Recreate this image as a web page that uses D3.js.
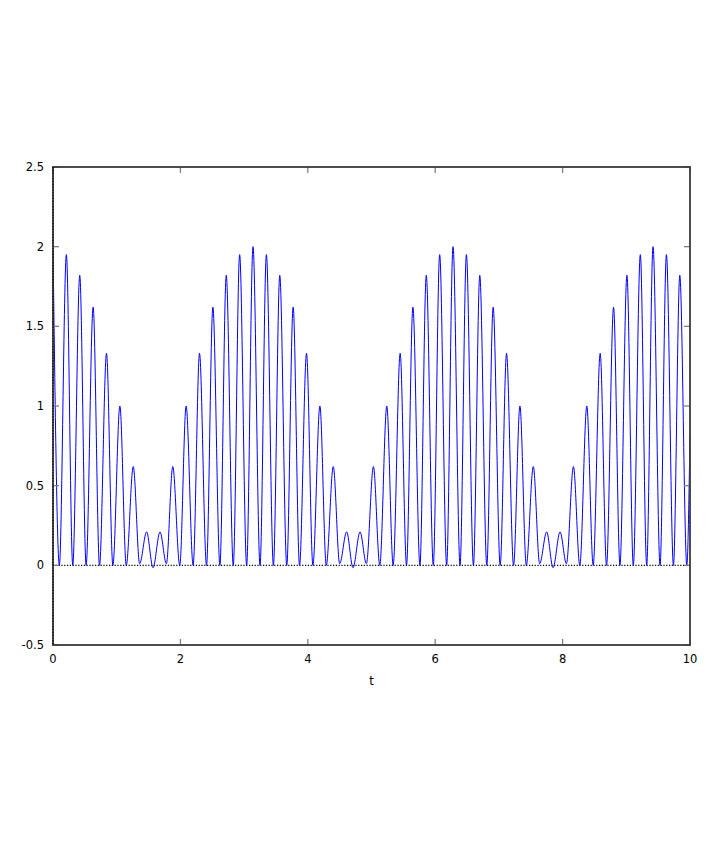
<!DOCTYPE html>
<html>
<head>
<meta charset="utf-8">
<script src="https://cdn.jsdelivr.net/npm/d3@7/dist/d3.min.js"></script>
<style>
  html, body { margin: 0; padding: 0; background: #fff; }
  svg { display: block; }
  text { font-family: "DejaVu Sans", sans-serif; font-size: 11.5px; fill: #000; }
</style>
</head>
<body>
<div id="chart"></div>
<script>
// ---- data ----
const peakT = [0.00, 0.21, 0.42, 0.63, 0.84, 1.05, 1.26, 1.47, 1.68, 1.88,
               2.09, 2.30, 2.51, 2.72, 2.93, 3.14, 3.35, 3.56, 3.77, 3.98,
               4.19, 4.40, 4.61, 4.82, 5.03, 5.24, 5.45, 5.65, 5.86, 6.07,
               6.28, 6.49, 6.70, 6.91, 7.12, 7.33, 7.54, 7.75, 7.96, 8.17,
               8.38, 8.59, 8.80, 9.01, 9.22, 9.42, 9.63, 9.84];
const peakV = [2.00, 1.95, 1.82, 1.62, 1.33, 1.00, 0.62, 0.21, 0.21, 0.62,
               1.00, 1.33, 1.62, 1.82, 1.95, 2.00, 1.95, 1.82, 1.62, 1.33,
               1.00, 0.62, 0.21, 0.21, 0.62, 1.00, 1.33, 1.62, 1.82, 1.95,
               2.00, 1.95, 1.82, 1.62, 1.33, 1.00, 0.62, 0.21, 0.21, 0.62,
               1.00, 1.33, 1.62, 1.82, 1.95, 2.00, 1.95, 1.82];
const troughT = [0.10, 0.31, 0.52, 0.73, 0.94, 1.15, 1.36, 1.57, 1.78, 1.99,
                 2.20, 2.41, 2.62, 2.83, 3.04, 3.25, 3.46, 3.67, 3.87, 4.08,
                 4.29, 4.50, 4.71, 4.92, 5.13, 5.34, 5.55, 5.76, 5.97, 6.18,
                 6.39, 6.60, 6.81, 7.02, 7.23, 7.43, 7.64, 7.85, 8.06, 8.27,
                 8.48, 8.69, 8.90, 9.11, 9.32, 9.53, 9.74, 9.95];
const troughV = [0, 0, 0, 0, 0, 0, 0.01, -0.015, 0.01, 0,
                 0, 0, 0, 0, 0, 0, 0, 0, 0, 0,
                 0, 0.01, -0.015, 0.01, 0, 0, 0, 0, 0, 0,
                 0, 0, 0, 0, 0, 0, 0.01, -0.015, 0.01, 0,
                 0, 0, 0, 0, 0, 0, 0, 0];
const endT = [10.0];
const endV = [0.82];

const xTicks = [0, 2, 4, 6, 8, 10];
const yTicks = [-0.5, 0, 0.5, 1, 1.5, 2, 2.5];
const xLabel = "t";

// ---- layout ----
const W = 714, H = 841;
const mLeft = 53, mRight = 690, mTop = 167, mBottom = 645;

const svg = d3.select("#chart").append("svg")
  .attr("width", W).attr("height", H);
svg.append("rect").attr("width", W).attr("height", H).attr("fill", "#fff");

const x = d3.scaleLinear().domain([0, 10]).range([mLeft, mRight]);
const y = d3.scaleLinear().domain([-0.5, 2.5]).range([mBottom, mTop]);

// combine points
const pts = [];
peakT.forEach((t, i) => pts.push([t, peakV[i]]));
troughT.forEach((t, i) => pts.push([t, troughV[i]]));
endT.forEach((t, i) => pts.push([t, endV[i]]));
pts.sort((a, b) => a[0] - b[0]);

svg.append("clipPath").attr("id", "clip")
  .append("rect").attr("x", mLeft).attr("y", mTop)
  .attr("width", mRight - mLeft).attr("height", mBottom - mTop);

// zero axis (dotted)
svg.append("line")
  .attr("x1", x(0)).attr("x2", x(10)).attr("y1", y(0)).attr("y2", y(0))
  .attr("stroke", "#000").attr("stroke-width", 1.2)
  .attr("stroke-dasharray", "1.2,1.6");

// curve
const line = d3.line()
  .x(d => x(d[0])).y(d => y(d[1]))
  .curve(d3.curveMonotoneX);
svg.append("path")
  .datum(pts)
  .attr("clip-path", "url(#clip)")
  .attr("d", line)
  .attr("fill", "none")
  .attr("stroke", "#0000ff")
  .attr("stroke-width", 1);

// ticks (inward, mirrored)
const tickLen = 6;
const tg = svg.append("g").attr("stroke", "#808080").attr("stroke-width", 1.3);
xTicks.forEach(v => {
  tg.append("line").attr("x1", x(v)).attr("x2", x(v)).attr("y1", mBottom).attr("y2", mBottom - tickLen);
  tg.append("line").attr("x1", x(v)).attr("x2", x(v)).attr("y1", mTop).attr("y2", mTop + tickLen);
});
yTicks.forEach(v => {
  tg.append("line").attr("x1", mLeft).attr("x2", mLeft + tickLen).attr("y1", y(v)).attr("y2", y(v));
  tg.append("line").attr("x1", mRight).attr("x2", mRight - tickLen).attr("y1", y(v)).attr("y2", y(v));
});

// border
svg.append("rect")
  .attr("x", mLeft).attr("y", mTop)
  .attr("width", mRight - mLeft).attr("height", mBottom - mTop)
  .attr("fill", "none").attr("stroke", "#3a3a3a").attr("stroke-width", 1.8);

// vertical zero axis coincides with left border (dotted overlay)
svg.append("line")
  .attr("x1", x(0)).attr("x2", x(0)).attr("y1", mTop).attr("y2", mBottom)
  .attr("stroke", "#000").attr("stroke-width", 1.2)
  .attr("stroke-dasharray", "1.2,1.6");

// tick labels
svg.append("g").selectAll("text").data(xTicks).join("text")
  .attr("x", d => x(d)).attr("y", 663)
  .attr("text-anchor", "middle")
  .text(d => String(d));

svg.append("g").selectAll("text").data(yTicks).join("text")
  .attr("x", 44).attr("y", d => y(d))
  .attr("dy", "0.36em")
  .attr("text-anchor", "end")
  .text(d => String(d));

svg.append("text")
  .attr("x", (mLeft + mRight) / 2).attr("y", 685)
  .attr("text-anchor", "middle")
  .text(xLabel);
</script>
</body>
</html>
